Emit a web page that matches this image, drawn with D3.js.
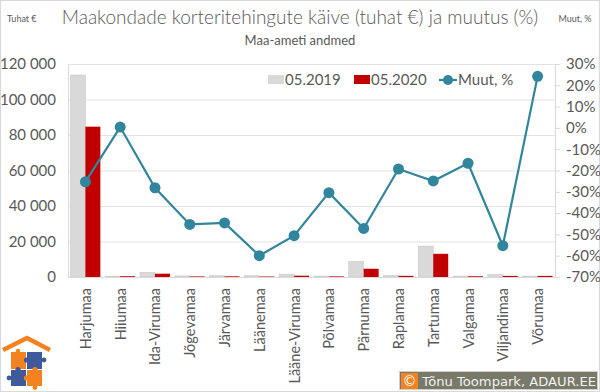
<!DOCTYPE html>
<html>
<head>
<meta charset="utf-8">
<script src="https://cdn.jsdelivr.net/npm/d3@7"></script>
<style>
  body { margin: 0; background: #fff; }
  svg { display: block; font-family: Lato, "Open Sans", sans-serif; }
</style>
</head>
<body>
<div id="chart"></div>
<script>
// data
const counties = ['Harjumaa', 'Hiiumaa', 'Ida-Virumaa', 'Jõgevamaa', 'Järvamaa', 'Läänemaa',
  'Lääne-Virumaa', 'Põlvamaa', 'Pärnumaa', 'Raplamaa', 'Tartumaa', 'Valgamaa', 'Viljandimaa', 'Võrumaa'];
const sales2019 = [113800, 450, 2600, 600, 700, 700, 1500, 500, 8800, 800, 17400, 500, 1400, 500];
const sales2020 = [84700, 450, 1870, 330, 390, 280, 740, 350, 4650, 650, 13070, 420, 630, 620];
const changePct = [-25.3, 0.4, -28.1, -45.3, -44.6, -60, -50.6, -30.4, -47.2, -19.3, -24.9, -16.6, -55.3, 24.2];
const leftTicks = [0, 20000, 40000, 60000, 80000, 100000, 120000];
const rightTicks = [-70, -60, -50, -40, -30, -20, -10, 0, 10, 20, 30];

const W = 600, H = 392;
const plotL = 68, plotR = 555, plotT = 64, plotB = 277;
const textCol = '#595959';
const lineCol = '#31859c';
const orange = '#f58220', blue = '#3f5a9a';

const svg = d3.select('#chart').append('svg')
  .attr('width', W).attr('height', H);

svg.append('rect').attr('x', 0.5).attr('y', 0.5).attr('width', W - 1).attr('height', H - 1)
  .attr('fill', '#fff').attr('stroke', '#d9d9d9');

const x = d3.scaleBand().domain(counties).range([plotL, plotR]).paddingInner(0.14).paddingOuter(0.07);
const x2 = d3.scaleBand().domain(['a', 'b']).range([0, x.bandwidth()]);
const xc = d3.scalePoint().domain(counties).range([plotL, plotR]).padding(0.5);
const y = d3.scaleLinear().domain([0, 120000]).range([plotB, plotT]);
const y2 = d3.scaleLinear().domain([-70, 30]).range([plotB, plotT]);

const fmt = d => d3.format(',')(d).replace(/,/g, ' ');

// gridlines
svg.append('g').selectAll('line').data(leftTicks.filter(d => d > 0)).join('line')
  .attr('x1', plotL).attr('x2', plotR)
  .attr('y1', d => y(d) + 0.5).attr('y2', d => y(d) + 0.5)
  .attr('stroke', '#e3e3e3');

// left axis
const yAxis = svg.append('g').attr('transform', `translate(${plotL},0)`)
  .call(d3.axisLeft(y).tickValues(leftTicks).tickFormat(fmt).tickSize(0).tickPadding(12));
yAxis.select('.domain').attr('stroke', '#d9d9d9');
yAxis.selectAll('text').attr('fill', textCol).style('font-size', '15px').style('font-family', 'Lato, sans-serif');

// right axis
const y2Axis = svg.append('g').attr('transform', `translate(${plotR},0)`)
  .call(d3.axisRight(y2).tickValues(rightTicks).tickFormat(d => d + '%').tickSize(5).tickPadding(6));
y2Axis.select('.domain').attr('stroke', '#d9d9d9');
y2Axis.selectAll('line').attr('stroke', '#d9d9d9');
y2Axis.selectAll('text').attr('fill', textCol).style('font-size', '15px').style('font-family', 'Lato, sans-serif');

// bars
const g = svg.append('g');
g.selectAll('rect.b19').data(counties).join('rect').attr('class', 'b19')
  .attr('x', d => x(d) + x2('a'))
  .attr('y', (d, i) => y(sales2019[i]))
  .attr('width', x2.bandwidth())
  .attr('height', (d, i) => plotB - y(sales2019[i]))
  .attr('fill', '#d9d9d9').attr('stroke', '#c8c8c8').attr('stroke-width', 0.6);
g.selectAll('rect.b20').data(counties).join('rect').attr('class', 'b20')
  .attr('x', d => x(d) + x2('b'))
  .attr('y', (d, i) => y(sales2020[i]))
  .attr('width', x2.bandwidth())
  .attr('height', (d, i) => plotB - y(sales2020[i]))
  .attr('fill', '#c00000');

// baseline
svg.append('line').attr('x1', plotL).attr('x2', plotR).attr('y1', plotB + 0.5).attr('y2', plotB + 0.5)
  .attr('stroke', '#d9d9d9');

// change line
const line = d3.line().x((d, i) => xc(counties[i])).y(d => y2(d));
svg.append('path').datum(changePct).attr('d', line)
  .attr('fill', 'none').attr('stroke', lineCol).attr('stroke-width', 2.2);
svg.append('g').selectAll('circle').data(changePct).join('circle')
  .attr('cx', (d, i) => xc(counties[i])).attr('cy', d => y2(d)).attr('r', 5.5)
  .attr('fill', lineCol);

// category labels
svg.append('g').selectAll('text').data(counties).join('text')
  .attr('transform', d => `translate(${xc(d) + 5.5},${plotB + 11}) rotate(-90)`)
  .attr('text-anchor', 'end')
  .attr('fill', textCol).style('font-size', '14.5px')
  .text(d => d);

// titles
svg.append('text').attr('x', 300).attr('y', 24).attr('text-anchor', 'middle')
  .attr('fill', textCol).style('font-size', '19px').style('font-weight', 300)
  .text('Maakondade korteritehingute käive (tuhat €) ja muutus (%)');
svg.append('text').attr('x', 300).attr('y', 45).attr('text-anchor', 'middle')
  .attr('fill', textCol).style('font-size', '13px')
  .text('Maa-ameti andmed');
svg.append('text').attr('x', 7).attr('y', 22).attr('fill', textCol).style('font-size', '9px').text('Tuhat €');
svg.append('text').attr('x', 575).attr('y', 22).attr('text-anchor', 'middle').attr('fill', textCol)
  .style('font-size', '9px').text('Muut, %');

// legend
const lg = svg.append('g').attr('transform', 'translate(0,80)');
lg.append('rect').attr('x', 268).attr('y', -5).attr('width', 16).attr('height', 9).attr('fill', '#d9d9d9');
lg.append('text').attr('x', 285).attr('y', 5).attr('fill', textCol).style('font-size', '15px').text('05.2019');
lg.append('rect').attr('x', 354).attr('y', -5).attr('width', 16).attr('height', 9).attr('fill', '#c00000');
lg.append('text').attr('x', 371).attr('y', 5).attr('fill', textCol).style('font-size', '15px').text('05.2020');
lg.append('line').attr('x1', 439).attr('x2', 457).attr('y1', 0).attr('y2', 0).attr('stroke', lineCol).attr('stroke-width', 2.2);
lg.append('circle').attr('cx', 448).attr('cy', 0).attr('r', 5).attr('fill', lineCol);
lg.append('text').attr('x', 458).attr('y', 5).attr('fill', textCol).style('font-size', '15px').text('Muut, %');

// logo: roof + four puzzle pieces
const logo = svg.append('g');
logo.append('path').attr('d', 'M3,350 L27,338 L50,350').attr('fill', 'none')
  .attr('stroke', orange).attr('stroke-width', 4.5);
logo.append('rect').attr('x', 11).attr('y', 352).attr('width', 15).attr('height', 17).attr('fill', orange);
logo.append('rect').attr('x', 27).attr('y', 352).attr('width', 15).attr('height', 17).attr('fill', blue);
logo.append('rect').attr('x', 11).attr('y', 370).attr('width', 15).attr('height', 16).attr('fill', blue);
logo.append('rect').attr('x', 27).attr('y', 370).attr('width', 15).attr('height', 16).attr('fill', orange);
logo.append('circle').attr('cx', 26.5).attr('cy', 360).attr('r', 2.6).attr('fill', blue);
logo.append('circle').attr('cx', 26.5).attr('cy', 378).attr('r', 2.6).attr('fill', orange);
logo.append('circle').attr('cx', 18).attr('cy', 369.5).attr('r', 2.6).attr('fill', blue);
logo.append('circle').attr('cx', 35).attr('cy', 369.5).attr('r', 2.6).attr('fill', orange);
logo.append('circle').attr('cx', 44).attr('cy', 360).attr('r', 2.4).attr('fill', blue);
logo.append('circle').attr('cx', 9).attr('cy', 378).attr('r', 2.4).attr('fill', blue);
logo.append('circle').attr('cx', 35).attr('cy', 387.5).attr('r', 2.4).attr('fill', orange);
logo.append('circle').attr('cx', 18).attr('cy', 351).attr('r', 2.2).attr('fill', orange);

// copyright box
const cp = svg.append('g');
cp.append('rect').attr('x', 399.5).attr('y', 371.5).attr('width', 198).attr('height', 18)
  .attr('fill', '#787969').attr('stroke', '#d0d0c8').attr('stroke-width', 1);
cp.append('rect').attr('x', 401).attr('y', 373).attr('width', 17).attr('height', 16).attr('fill', orange);
cp.append('text').attr('x', 409.5).attr('y', 386).attr('text-anchor', 'middle').attr('fill', '#fff')
  .style('font-size', '14px').style('font-family', '"DejaVu Sans", sans-serif').text('©');
cp.append('text').attr('x', 422).attr('y', 385.5).attr('fill', '#f2f2f2')
  .attr('textLength', 174).attr('lengthAdjust', 'spacingAndGlyphs')
  .style('font-size', '13px').style('font-family', '"DejaVu Sans", sans-serif').text('Tõnu Toompark, ADAUR.EE');
</script>
</body>
</html>
